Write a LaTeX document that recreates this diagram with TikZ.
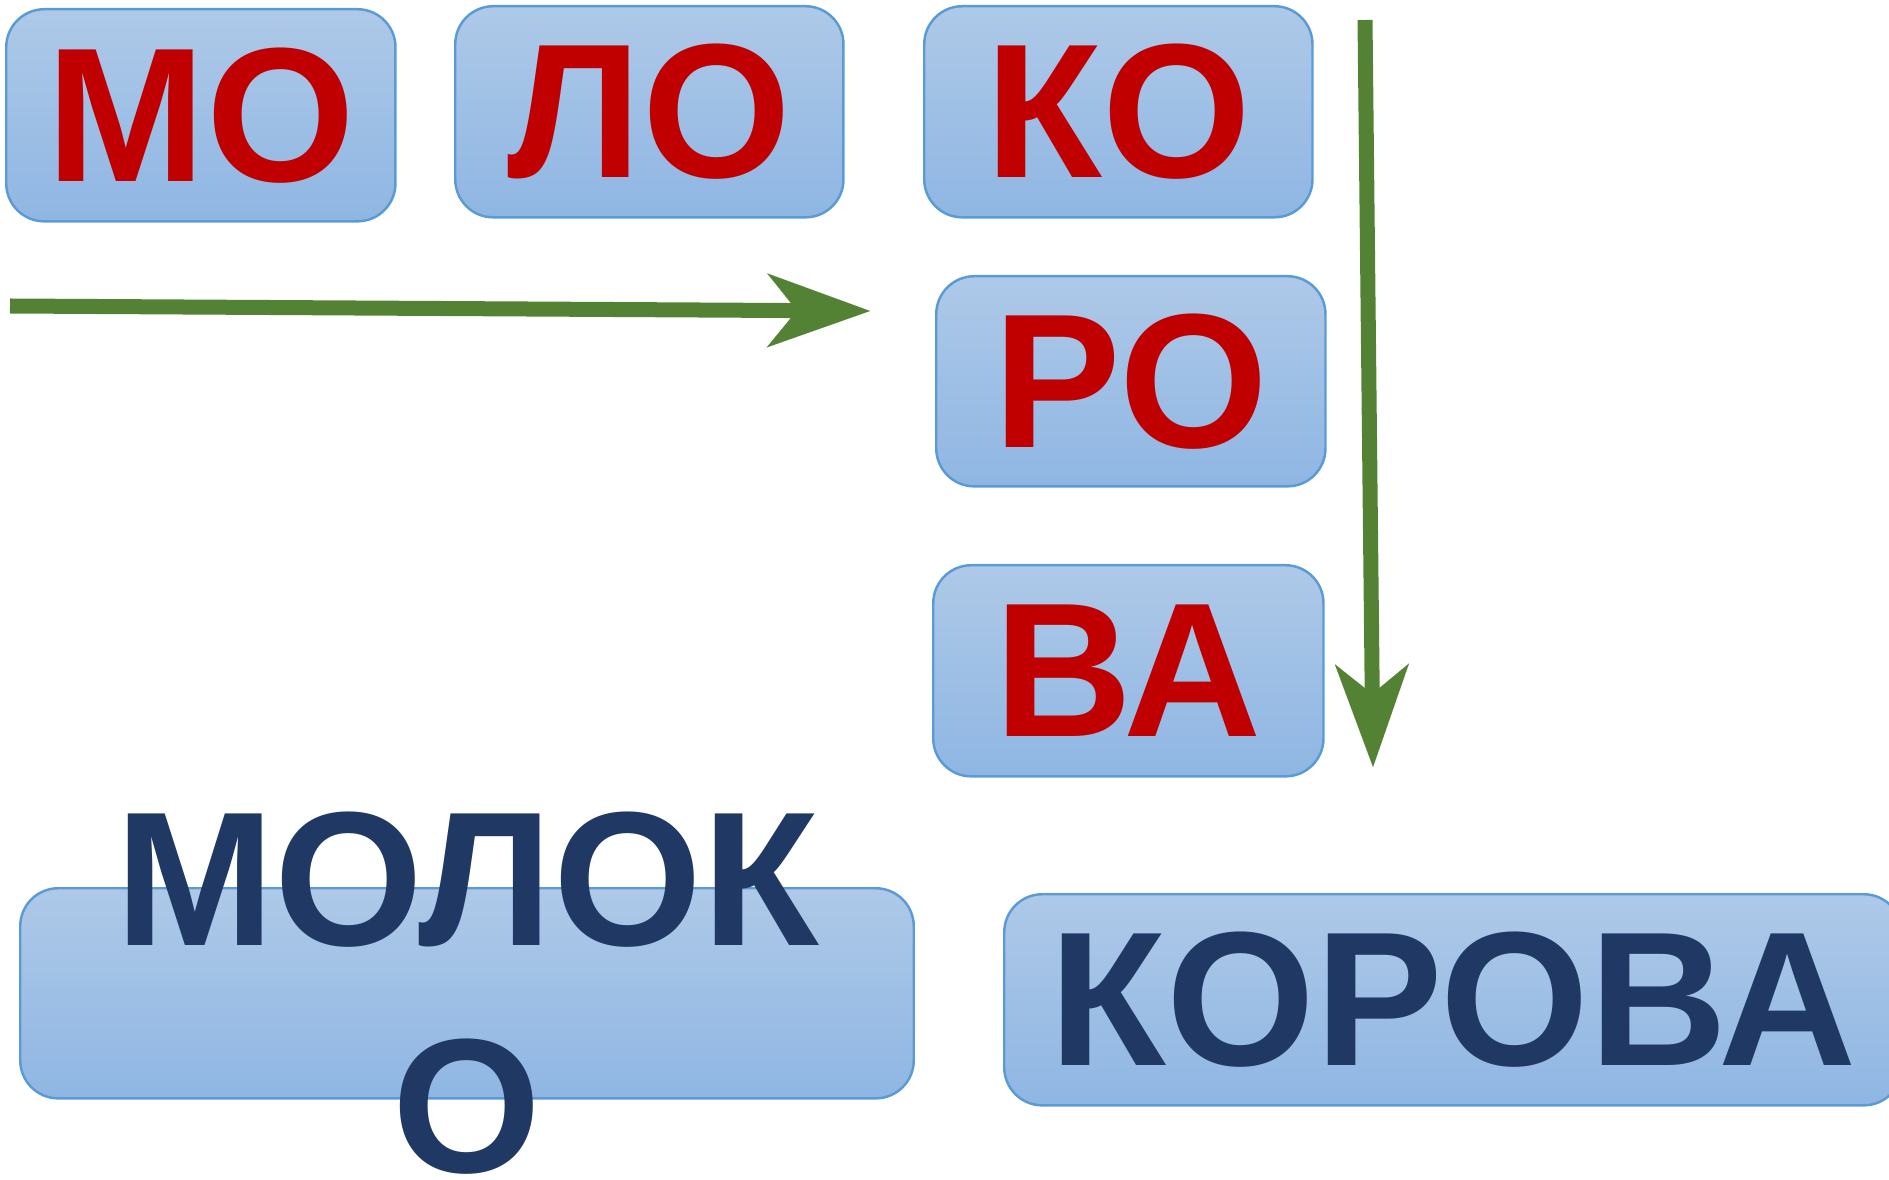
\documentclass[tikz,border=0pt]{standalone}
\usepackage{fontspec}
\setmainfont{Liberation Sans}
\usetikzlibrary{arrows.meta,positioning}

\definecolor{cardtop}{RGB}{174,201,232}
\definecolor{cardbot}{RGB}{143,182,227}
\definecolor{cardline}{RGB}{91,155,213}
\definecolor{syllred}{RGB}{192,0,0}
\definecolor{wordblue}{RGB}{31,56,100}
\definecolor{arrowgreen}{RGB}{84,130,53}

\begin{document}
\begin{tikzpicture}[x=0.01cm,y=-0.01cm,
    card/.style={draw=cardline, line width=0.7pt, rounded corners=0.38cm,
      top color=cardtop, bottom color=cardbot, inner sep=0pt,
      anchor=north west, minimum height=2.11cm},
    syll/.style={font=\fontsize{54.4}{64}\selectfont\bfseries, text=syllred},
    word/.style={font=\fontsize{54.4}{64.6}\selectfont\bfseries, text=wordblue},
    bigarrow/.style={draw=arrowgreen, line width=0.15cm,
      -{Stealth[length=1.03cm,width=0.74cm,inset=0.3cm,line width=0.01pt]}}]
  \useasboundingbox (0,0) rectangle (1889,1180);

  % syllable cards
  \node[card, syll, minimum width=3.89cm, minimum height=2.12cm] (mo) at (5,8) {МО};
  \node[card, syll, minimum width=3.88cm] (lo) at (454,5) {ЛО};
  \node[card, syll, minimum width=3.88cm] (ko) at (923,5) {КО};
  \node[card, syll, minimum width=3.89cm, minimum height=2.10cm] (ro) at (935,275) {РО};
  \node[card, syll, minimum width=3.90cm] (va) at (932,564) {ВА};

  % arrows
  \coordinate (hstart) at (10,306);
  \coordinate (hend) at (870,311);
  \draw[bigarrow] (hstart) -- (hend);
  \coordinate (vstart) at (1365,20);
  \coordinate (vend) at (1373,767);
  \draw[bigarrow] (vstart) -- (vend);

  % words
  \node[card, minimum width=8.93cm, minimum height=2.10cm] (molokbox) at (19,887) {};
  \node[word, align=center] (moloko) at (molokbox.center) {МОЛОК\\О};
  \node[card, word, minimum width=8.97cm] (korova) at (1003,893) {КОРОВА};
\end{tikzpicture}
\end{document}
